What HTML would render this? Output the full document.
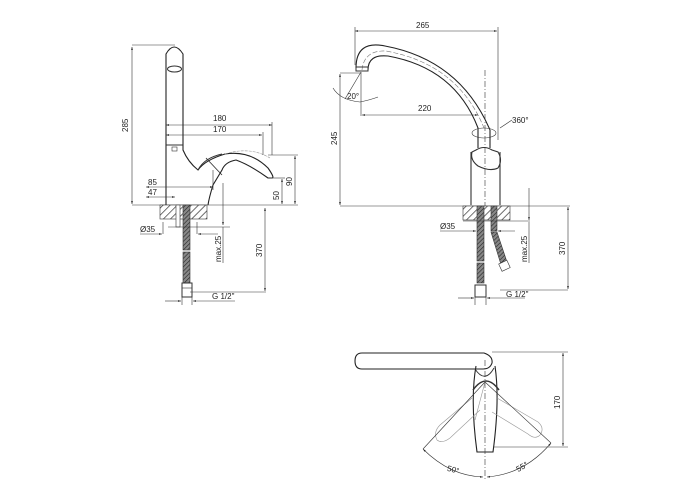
<!DOCTYPE html>
<html><head><meta charset="utf-8"><style>
html,body{margin:0;padding:0;background:#fff;width:700px;height:500px;overflow:hidden}
svg{display:block}
text{font-family:"Liberation Sans",sans-serif;font-size:8px;fill:#222;stroke:none}
</style></head><body>
<svg width="700" height="500" viewBox="0 0 700 500" xmlns="http://www.w3.org/2000/svg">
<defs>
<pattern id="h" width="5" height="5" patternUnits="userSpaceOnUse" patternTransform="rotate(45)">
<rect width="5" height="5" fill="#fff"/><line x1="0" y1="0" x2="0" y2="5" stroke="#333" stroke-width="1.4"/></pattern>
<pattern id="b" width="3" height="3" patternUnits="userSpaceOnUse" patternTransform="rotate(45)">
<rect width="3" height="3" fill="#888"/><line x1="0" y1="0" x2="0" y2="3" stroke="#222" stroke-width="1.2"/></pattern>
<marker id="a" viewBox="0 0 10 10" refX="10" refY="5" markerWidth="7" markerHeight="5" orient="auto-start-reverse"><path d="M0,2 L10,5 L0,8z" fill="#222" stroke="none"/></marker>
</defs>
<g stroke="#333" stroke-width="0.6" fill="none">
<!-- ===== LEFT VIEW ===== -->
<line x1="132" y1="205" x2="298" y2="205"/>
<line x1="132" y1="45" x2="175" y2="45"/>
<line x1="132" y1="47" x2="132" y2="204" marker-start="url(#a)" marker-end="url(#a)"/>
<path d="M166,205 L166,54 Q174,40 183,54 L183,150 Q188,162 198,170 Q205,160 225,154 Q250,150 268,168 Q275,178 272,178 L268,178 Q250,165 236,160 Q225,162 222,170 L213,185 Q209,198 208,205" stroke-width="1.1" stroke="#222"/>
<path d="M198,170 Q204,158 222,154" stroke-width="0.9"/>
<path d="M206,158 L222,175" stroke-width="0.9"/>
<path d="M225,154 Q250,146 270,158" stroke="#999" stroke-dasharray="3,1"/>
<ellipse cx="174.5" cy="69" rx="7" ry="3" stroke-width="1"/>
<line x1="166" y1="145" x2="183" y2="145" stroke-width="0.9"/>
<rect x="172" y="147" width="5" height="4"/>
<line x1="166" y1="125" x2="272" y2="125" marker-start="url(#a)" marker-end="url(#a)"/>
<line x1="166" y1="135" x2="262" y2="135" marker-start="url(#a)" marker-end="url(#a)"/>
<line x1="272" y1="122" x2="272" y2="155"/><line x1="263" y1="132" x2="263" y2="155"/>
<line x1="268" y1="155" x2="298" y2="155"/><line x1="270" y1="178" x2="285" y2="178"/>
<line x1="295" y1="156" x2="295" y2="204" marker-start="url(#a)" marker-end="url(#a)"/>
<line x1="282" y1="179" x2="282" y2="204" marker-start="url(#a)" marker-end="url(#a)"/>
<line x1="146" y1="187" x2="213" y2="187" marker-start="url(#a)" marker-end="url(#a)"/>
<line x1="146" y1="197" x2="175" y2="197" marker-start="url(#a)" marker-end="url(#a)"/>
<line x1="213" y1="170" x2="213" y2="190"/>
<rect x="160" y="205" width="47" height="14" fill="url(#h)"/>
<rect x="176" y="205" width="4" height="22" fill="#fff"/>
<rect x="183" y="205" width="7" height="45" fill="url(#b)"/>
<rect x="183" y="252" width="7" height="31" fill="url(#b)"/>
<rect x="182" y="283" width="10" height="14" fill="#fff" stroke-width="1"/>
<line x1="182" y1="288" x2="192" y2="288"/>
<line x1="168" y1="227" x2="230" y2="227"/>
<line x1="163" y1="222" x2="163" y2="234"/><line x1="197" y1="222" x2="197" y2="234"/>
<line x1="140" y1="234" x2="162" y2="234" marker-end="url(#a)"/><line x1="218" y1="234" x2="198" y2="234" marker-end="url(#a)"/>
<line x1="223" y1="183" x2="223" y2="225" marker-end="url(#a)"/><line x1="223" y1="227" x2="223" y2="263"/>
<line x1="190" y1="292" x2="266" y2="292"/>
<line x1="265" y1="208" x2="265" y2="291" marker-start="url(#a)" marker-end="url(#a)"/>
<line x1="182" y1="297" x2="182" y2="305"/><line x1="192" y1="297" x2="192" y2="305"/>
<line x1="165" y1="301" x2="181" y2="301" marker-end="url(#a)"/><line x1="235" y1="301" x2="193" y2="301" marker-end="url(#a)"/>
<!-- ===== RIGHT VIEW ===== -->
<line x1="340" y1="206" x2="570" y2="206"/>
<line x1="355" y1="31" x2="497" y2="31" marker-start="url(#a)" marker-end="url(#a)"/>
<line x1="355" y1="27" x2="355" y2="65"/><line x1="498" y1="27" x2="498" y2="140"/>
<path d="M356,68 Q356,40 385,46 Q460,60 490,130 L490,148" stroke-width="1.1" stroke="#222"/>
<path d="M368,70 Q368,54 388,56 Q455,68 478,128 L478,148" stroke-width="1.1" stroke="#222"/>
<path d="M362,70 Q364,50 386,51 Q458,64 484,128" stroke="#777" stroke-dasharray="5,2"/>
<rect x="356" y="67" width="12" height="4" stroke-width="1"/>
<line x1="340" y1="73" x2="360" y2="73"/>
<line x1="340" y1="74" x2="340" y2="205" marker-start="url(#a)" marker-end="url(#a)"/>
<line x1="361" y1="72" x2="345" y2="99"/>
<path d="M333,88 Q340,100 360,102 Q370,100 378,97"/>
<line x1="361" y1="72" x2="361" y2="116"/>
<line x1="362" y1="115" x2="478" y2="115" marker-start="url(#a)" marker-end="url(#a)"/>
<ellipse cx="484" cy="133" rx="12" ry="5"/>
<line x1="500" y1="128" x2="512" y2="120"/>
<path d="M476,150 Q484,145 492,150 L498,152 Q503,160 498,168 Q490,172 478,166 Q470,160 472,152 Z" stroke-width="1.1"/>
<path d="M471,152 L471,205 M500,152 L500,205" stroke-width="1.1"/>
<line x1="485" y1="70" x2="485" y2="220" stroke-dasharray="6,2,1,2"/>
<rect x="463" y="206" width="47" height="14" fill="url(#h)"/>
<rect x="477" y="206" width="7" height="55" fill="url(#b)"/><rect x="477" y="263" width="7" height="20" fill="url(#b)"/>
<rect x="491" y="206" width="6" height="25" fill="url(#b)"/>
<path d="M491,232 L497,232 L508,265 L502,268 Z" fill="url(#b)"/>
<rect x="500" y="262" width="9" height="8" fill="#fff" transform="rotate(-25 504 266)"/>
<rect x="475" y="285" width="11" height="12" fill="#fff" stroke-width="1"/>
<line x1="463" y1="221" x2="530" y2="221"/>
<line x1="440" y1="231" x2="476" y2="231" marker-end="url(#a)"/><line x1="515" y1="231" x2="498" y2="231" marker-end="url(#a)"/>
<line x1="529" y1="188" x2="529" y2="220" marker-end="url(#a)"/><line x1="529" y1="222" x2="529" y2="263"/>
<line x1="500" y1="290" x2="568" y2="290"/>
<line x1="568" y1="207" x2="568" y2="289" marker-start="url(#a)" marker-end="url(#a)"/>
<line x1="475" y1="297" x2="475" y2="305"/><line x1="486" y1="297" x2="486" y2="305"/>
<line x1="458" y1="298" x2="474" y2="298" marker-end="url(#a)"/><line x1="525" y1="298" x2="487" y2="298" marker-end="url(#a)"/>
<!-- ===== TOP VIEW ===== -->
<path d="M362,353 L484,353 Q493,356 492,363 Q490,369 483,369 L362,369 Q355,369 355,361 Q355,353 362,353 Z" stroke-width="1.1" stroke="#222"/>
<path d="M475,369 Q485,384 494,368" stroke-width="0.9"/>
<path d="M476,366 Q470,400 477,452 L493,452 Q500,400 495,366" stroke-width="1.1" stroke="#222"/>
<path d="M473,390 Q486,372 499,390" stroke-width="1.5"/>
<path d="M472,398 L440,425 Q433,432 437,440 Q442,444 450,438 L480,410" stroke="#999"/>
<path d="M497,398 L538,422 Q545,428 540,435 Q535,440 528,434 L492,412" stroke="#999"/>
<line x1="485" y1="382" x2="423" y2="449"/><line x1="485" y1="382" x2="551" y2="443"/>
<line x1="485" y1="382" x2="475" y2="420" stroke="#999"/>
<line x1="485" y1="360" x2="485" y2="480" stroke-dasharray="6,2,1,2"/>
<path d="M423,449 Q450,476 483,477" marker-start="url(#a)" marker-end="url(#a)"/>
<path d="M487,477 Q525,474 551,443" marker-start="url(#a)" marker-end="url(#a)"/>
<line x1="492" y1="352" x2="568" y2="352"/><line x1="493" y1="447" x2="568" y2="447"/>
<line x1="563" y1="353" x2="563" y2="446" marker-start="url(#a)" marker-end="url(#a)"/>
</g>
<g>
<text x="213" y="121">180</text><text x="213" y="132">170</text>
<text x="347" y="99">20°</text>
<text x="418" y="111">220</text>
<text x="512" y="123">360°</text>
<text x="447" y="472" transform="rotate(15 452 470)">50°</text>
<text x="516" y="470" transform="rotate(-30 521 467)">55°</text>
<text x="128" y="132" transform="rotate(-90 128 132)">285</text>
<text x="148" y="185">85</text><text x="148" y="195">47</text>
<text x="292" y="186" transform="rotate(-90 292 186)">90</text>
<text x="279" y="200" transform="rotate(-90 279 200)">50</text>
<text x="140" y="232">Ø35</text>
<text x="221" y="262" transform="rotate(-90 221 262)">max.25</text>
<text x="262" y="257" transform="rotate(-90 262 257)">370</text>
<text x="212" y="299">G 1/2"</text>
<text x="416" y="28">265</text>
<text x="337" y="145" transform="rotate(-90 337 145)">245</text>
<text x="440" y="229">Ø35</text>
<text x="527" y="262" transform="rotate(-90 527 262)">max.25</text>
<text x="565" y="255" transform="rotate(-90 565 255)">370</text>
<text x="506" y="297">G 1/2"</text>
<text x="560" y="409" transform="rotate(-90 560 409)">170</text>
</g>
</svg>
</body></html>
